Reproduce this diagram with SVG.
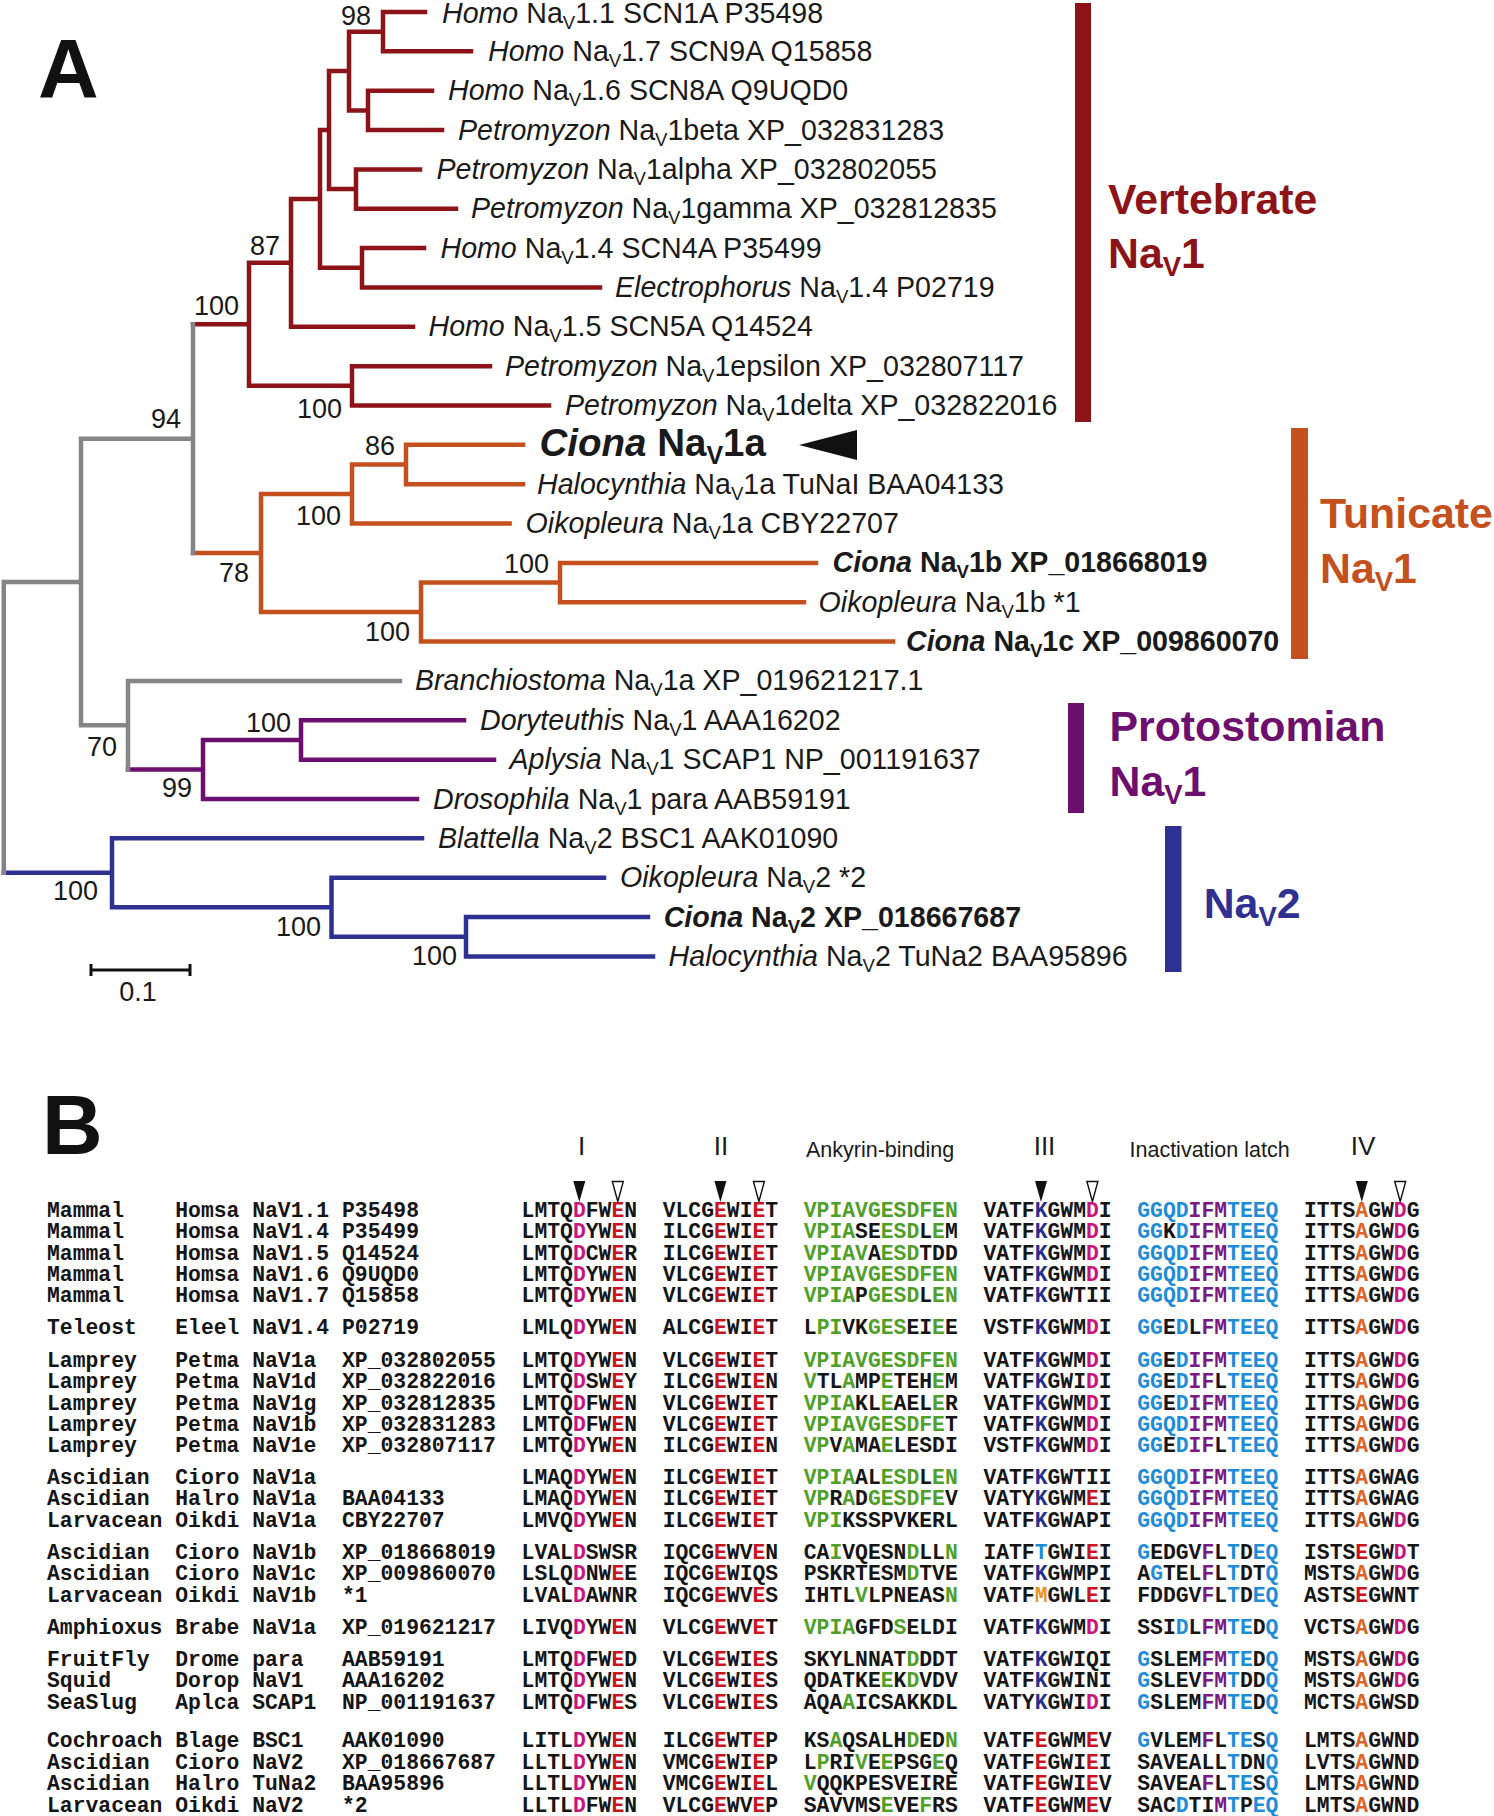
<svg xmlns="http://www.w3.org/2000/svg" width="1494" height="1816" viewBox="0 0 1494 1816">
<style>
.t{font-family:"Liberation Sans",Arial,sans-serif;font-size:28.6px;fill:#1a1a1a}
.it{font-style:italic}
.bd{font-weight:bold}
.sub{font-size:18.6px}
.bs{font-family:"Liberation Sans",Arial,sans-serif;font-size:27px;fill:#1a1a1a;text-anchor:end}
.cl{font-family:"Liberation Sans",Arial,sans-serif;font-size:42.8px;font-weight:bold}
.cls{font-size:27.5px}
.big{font-family:"Liberation Sans",Arial,sans-serif;font-size:84px;font-weight:bold;fill:#111}
.hd{font-family:"Liberation Sans",Arial,sans-serif;fill:#1a1a1a}
.aln{font-family:"Liberation Mono","Courier New",monospace;font-size:21.38px;font-weight:bold;fill:#151515}
.m{fill:#c8157e}.r{fill:#c8141e}.g{fill:#4f9f2a}.n{fill:#24308c}.c{fill:#1e8cd7}.p{fill:#781a82}.o{fill:#dc6428}.y{fill:#e6961e}
.br{fill:none;stroke-width:4.5;stroke-linecap:square;stroke-linejoin:miter}
.tf{fill:#111}
.to{fill:#fff;stroke:#111;stroke-width:1.4}
</style>

<text class="big" x="38" y="98">A</text>
<text class="big" x="42" y="1154">B</text>

<g id="branches">
<path class="br" stroke="#8c1418" d="M193,324.3 H249 M291,262.85 H249 V385.8 H352 M320,198.9 H291 V326.8 H413 M329,130 H320 V267.8 H362 M349,71 H329 V189.1 H356 M383,31.7 H349 V110.4 H368 M425,12 H383 V51.35 H471 M432,90.7 H368 V130.05 H442 M420,169.4 H356 V208.75 H456 M424,248.1 H362 V287.45 H600 M490,366.15 H352 V405.5 H549"/>
<path class="br" stroke="#c4501e" d="M193,553.05 H261 M352,494 H261 V612.1 H421 M406,464.5 H352 V523.55 H509.6 M523,444.85 H406 V484.2 H523 M560,582.6 H421 V641.6 H893 M816,562.9 H560 V602.25 H804"/>
<path class="br" stroke="#6c0f6e" d="M128,769.5 H203 M301,740 H203 V799 H417 M464,720.3 H301 V759.65 H494"/>
<path class="br" stroke="#2e3192" d="M3.8,872.8 H112 M422,838.35 H112 V907.2 H331.5 M604,877.7 H331.5 V936.7 H466 M648,917.05 H466 V956.4 H653"/>
<path class="br" stroke="#858585" d="M81,582 H3.8 V872.8 M193,438.7 H81 V725.2 H128 M193,324.3 V553.05 M400,680.95 H128 V769.5"/>
</g>

<g id="bootstrap">
<text class="bs" x="371" y="25">98</text>
<text class="bs" x="280" y="255">87</text>
<text class="bs" x="239" y="315">100</text>
<text class="bs" x="342" y="418">100</text>
<text class="bs" x="181" y="427.5">94</text>
<text class="bs" x="395" y="455">86</text>
<text class="bs" x="341" y="525">100</text>
<text class="bs" x="249" y="581.5">78</text>
<text class="bs" x="549" y="573">100</text>
<text class="bs" x="410" y="641">100</text>
<text class="bs" x="117" y="756">70</text>
<text class="bs" x="291" y="732">100</text>
<text class="bs" x="192" y="797">99</text>
<text class="bs" x="98" y="900">100</text>
<text class="bs" x="321" y="936">100</text>
<text class="bs" x="457" y="965">100</text>
</g>

<g id="leaf-homo-nav1-1"><text class="t" x="442" y="23"><tspan class="it">Homo</tspan> Na<tspan class="sub" dy="6">V</tspan><tspan dy="-6">1.1 SCN1A P35498</tspan></text></g>
<g id="leaf-homo-nav1-7"><text class="t" x="488" y="60.85"><tspan class="it">Homo</tspan> Na<tspan class="sub" dy="6">V</tspan><tspan dy="-6">1.7 SCN9A Q15858</tspan></text></g>
<g id="leaf-homo-nav1-6"><text class="t" x="448" y="100.2"><tspan class="it">Homo</tspan> Na<tspan class="sub" dy="6">V</tspan><tspan dy="-6">1.6 SCN8A Q9UQD0</tspan></text></g>
<g id="leaf-petromyzon-beta"><text class="t" x="458" y="139.55"><tspan class="it">Petromyzon</tspan> Na<tspan class="sub" dy="6">V</tspan><tspan dy="-6">1beta XP_032831283</tspan></text></g>
<g id="leaf-petromyzon-alpha"><text class="t" x="436.5" y="178.9"><tspan class="it">Petromyzon</tspan> Na<tspan class="sub" dy="6">V</tspan><tspan dy="-6">1alpha XP_032802055</tspan></text></g>
<g id="leaf-petromyzon-gamma"><text class="t" x="471" y="218.25"><tspan class="it">Petromyzon</tspan> Na<tspan class="sub" dy="6">V</tspan><tspan dy="-6">1gamma XP_032812835</tspan></text></g>
<g id="leaf-homo-nav1-4"><text class="t" x="440.5" y="257.6"><tspan class="it">Homo</tspan> Na<tspan class="sub" dy="6">V</tspan><tspan dy="-6">1.4 SCN4A P35499</tspan></text></g>
<g id="leaf-electrophorus"><text class="t" x="615" y="296.95"><tspan class="it">Electrophorus</tspan> Na<tspan class="sub" dy="6">V</tspan><tspan dy="-6">1.4 P02719</tspan></text></g>
<g id="leaf-homo-nav1-5"><text class="t" x="428.5" y="336.3"><tspan class="it">Homo</tspan> Na<tspan class="sub" dy="6">V</tspan><tspan dy="-6">1.5 SCN5A Q14524</tspan></text></g>
<g id="leaf-petromyzon-epsilon"><text class="t" x="505" y="375.65"><tspan class="it">Petromyzon</tspan> Na<tspan class="sub" dy="6">V</tspan><tspan dy="-6">1epsilon XP_032807117</tspan></text></g>
<g id="leaf-petromyzon-delta"><text class="t" x="565" y="415"><tspan class="it">Petromyzon</tspan> Na<tspan class="sub" dy="6">V</tspan><tspan dy="-6">1delta XP_032822016</tspan></text></g>
<g id="leaf-ciona-nav1a"><text class="t bd" x="539.5" y="456" style="font-size:38.5px"><tspan class="it">Ciona</tspan> Na<tspan dy="8" style="font-size:25px">V</tspan><tspan dy="-8">1a</tspan></text><polygon points="799,445 857,430 857,460" fill="#111"/></g>
<g id="leaf-halocynthia-nav1a"><text class="t" x="537" y="493.7"><tspan class="it">Halocynthia</tspan> Na<tspan class="sub" dy="6">V</tspan><tspan dy="-6">1a TuNaI BAA04133</tspan></text></g>
<g id="leaf-oikopleura-nav1a"><text class="t" x="525.6" y="533.05"><tspan class="it">Oikopleura</tspan> Na<tspan class="sub" dy="6">V</tspan><tspan dy="-6">1a CBY22707</tspan></text></g>
<g id="leaf-ciona-nav1b"><text class="t bd" x="832.6" y="572.4"><tspan class="it">Ciona</tspan> Na<tspan class="sub" dy="6">V</tspan><tspan dy="-6">1b XP_018668019</tspan></text></g>
<g id="leaf-oikopleura-nav1b"><text class="t" x="818.6" y="611.75"><tspan class="it">Oikopleura</tspan> Na<tspan class="sub" dy="6">V</tspan><tspan dy="-6">1b *1</tspan></text></g>
<g id="leaf-ciona-nav1c"><text class="t bd" x="906" y="651.1"><tspan class="it">Ciona</tspan> Na<tspan class="sub" dy="6">V</tspan><tspan dy="-6">1c XP_009860070</tspan></text></g>
<g id="leaf-branchiostoma"><text class="t" x="415" y="690.45"><tspan class="it">Branchiostoma</tspan> Na<tspan class="sub" dy="6">V</tspan><tspan dy="-6">1a XP_019621217.1</tspan></text></g>
<g id="leaf-doryteuthis"><text class="t" x="480" y="729.8"><tspan class="it">Doryteuthis</tspan> Na<tspan class="sub" dy="6">V</tspan><tspan dy="-6">1 AAA16202</tspan></text></g>
<g id="leaf-aplysia"><text class="t" x="509.5" y="769.15"><tspan class="it">Aplysia</tspan> Na<tspan class="sub" dy="6">V</tspan><tspan dy="-6">1 SCAP1 NP_001191637</tspan></text></g>
<g id="leaf-drosophila"><text class="t" x="433" y="808.5"><tspan class="it">Drosophila</tspan> Na<tspan class="sub" dy="6">V</tspan><tspan dy="-6">1 para AAB59191</tspan></text></g>
<g id="leaf-blattella"><text class="t" x="438" y="847.85"><tspan class="it">Blattella</tspan> Na<tspan class="sub" dy="6">V</tspan><tspan dy="-6">2 BSC1 AAK01090</tspan></text></g>
<g id="leaf-oikopleura-nav2"><text class="t" x="620" y="887.2"><tspan class="it">Oikopleura</tspan> Na<tspan class="sub" dy="6">V</tspan><tspan dy="-6">2 *2</tspan></text></g>
<g id="leaf-ciona-nav2"><text class="t bd" x="663.7" y="926.55"><tspan class="it">Ciona</tspan> Na<tspan class="sub" dy="6">V</tspan><tspan dy="-6">2 XP_018667687</tspan></text></g>
<g id="leaf-halocynthia-nav2"><text class="t" x="668.6" y="965.9"><tspan class="it">Halocynthia</tspan> Na<tspan class="sub" dy="6">V</tspan><tspan dy="-6">2 TuNa2 BAA95896</tspan></text></g>

<g id="clade-vertebrate"><rect x="1075" y="3" width="16" height="419" fill="#8c1418"/><text class="cl" fill="#8c1418" x="1108" y="214">Vertebrate</text><text class="cl" fill="#8c1418" x="1108" y="267.5">Na<tspan class="cls" dy="8">V</tspan><tspan dy="-8">1</tspan></text></g>
<g id="clade-tunicate"><rect x="1291" y="428" width="17" height="231" fill="#c4501e"/><text class="cl" fill="#c4501e" x="1320" y="528">Tunicate</text><text class="cl" fill="#c4501e" x="1320" y="583">Na<tspan class="cls" dy="8">V</tspan><tspan dy="-8">1</tspan></text></g>
<g id="clade-protostomian"><rect x="1068" y="703" width="16" height="110" fill="#6c0f6e"/><text class="cl" fill="#6c0f6e" x="1109.5" y="741">Protostomian</text><text class="cl" fill="#6c0f6e" x="1109.5" y="795.5">Na<tspan class="cls" dy="8">V</tspan><tspan dy="-8">1</tspan></text></g>
<g id="clade-nav2"><rect x="1165" y="826" width="16.5" height="146" fill="#2e3192"/><text class="cl" fill="#2e3192" x="1203.7" y="918">Na<tspan class="cls" dy="8">V</tspan><tspan dy="-8">2</tspan></text></g>

<g id="scalebar"><path d="M91,964 V976 M91,970 H190 M190,964 V976" stroke="#111" stroke-width="3" fill="none"/><text class="hd" x="138" y="1001" font-size="27" text-anchor="middle">0.1</text></g>

<g id="alignment-header">
<text class="hd" x="581.6" y="1155" font-size="26" text-anchor="middle">I</text>
<text class="hd" x="721" y="1155" font-size="26" text-anchor="middle">II</text>
<text class="hd" x="806" y="1157" font-size="21.5">Ankyrin-binding</text>
<text class="hd" x="1044.5" y="1155" font-size="26" text-anchor="middle">III</text>
<text class="hd" x="1129.5" y="1157" font-size="21.5">Inactivation latch</text>
<text class="hd" x="1363" y="1155" font-size="26" text-anchor="middle">IV</text>
<polygon class="tf" points="573.3,1181 585.3,1181 579.3,1202"/>
<polygon class="to" points="612.3,1181.5 623.3,1181.5 617.8,1201.5"/>
<polygon class="tf" points="714.4,1181 726.4,1181 720.4,1202"/>
<polygon class="to" points="753.4,1181.5 764.4,1181.5 758.9,1201.5"/>
<polygon class="tf" points="1035,1181 1047,1181 1041,1202"/>
<polygon class="to" points="1086.9,1181.5 1097.9,1181.5 1092.4,1201.5"/>
<polygon class="tf" points="1355.8,1181 1367.8,1181 1361.8,1202"/>
<polygon class="to" points="1394.7,1181.5 1405.7,1181.5 1400.2,1201.5"/>
</g>

<g id="alignment">
<text class="aln" y="1216.7"><tspan x="47">Mammal</tspan><tspan x="175.3">Homsa</tspan><tspan x="252.2">NaV1.1</tspan><tspan x="342">P35498</tspan><tspan x="521.6">LMTQ</tspan><tspan class="m">D</tspan>FW<tspan class="r">E</tspan>N<tspan x="662.7">VLCG</tspan><tspan class="r">E</tspan>WI<tspan class="r">E</tspan>T<tspan x="803.8" class="g">VPIAVGESDFEN</tspan><tspan x="983.4">VATF</tspan><tspan class="n">K</tspan>GWM<tspan class="m">D</tspan>I<tspan x="1137.3" class="c">GGQD</tspan><tspan class="p">IFM</tspan><tspan class="c">TEEQ</tspan><tspan x="1304">ITTS</tspan><tspan class="o">A</tspan>GW<tspan class="m">D</tspan>G</text>
<text class="aln" y="1238.1"><tspan x="47">Mammal</tspan><tspan x="175.3">Homsa</tspan><tspan x="252.2">NaV1.4</tspan><tspan x="342">P35499</tspan><tspan x="521.6">LMTQ</tspan><tspan class="m">D</tspan>YW<tspan class="r">E</tspan>N<tspan x="662.7">ILCG</tspan><tspan class="r">E</tspan>WI<tspan class="r">E</tspan>T<tspan x="803.8" class="g">VPIA</tspan>SE<tspan class="g">ESD</tspan>L<tspan class="g">E</tspan>M<tspan x="983.4">VATF</tspan><tspan class="n">K</tspan>GWM<tspan class="m">D</tspan>I<tspan x="1137.3" class="c">GG</tspan>K<tspan class="c">D</tspan><tspan class="p">IFM</tspan><tspan class="c">TEEQ</tspan><tspan x="1304">ITTS</tspan><tspan class="o">A</tspan>GW<tspan class="m">D</tspan>G</text>
<text class="aln" y="1259.5"><tspan x="47">Mammal</tspan><tspan x="175.3">Homsa</tspan><tspan x="252.2">NaV1.5</tspan><tspan x="342">Q14524</tspan><tspan x="521.6">LMTQ</tspan><tspan class="m">D</tspan>CW<tspan class="r">E</tspan>R<tspan x="662.7">ILCG</tspan><tspan class="r">E</tspan>WI<tspan class="r">E</tspan>T<tspan x="803.8" class="g">VPIAV</tspan>A<tspan class="g">ESD</tspan>TDD<tspan x="983.4">VATF</tspan><tspan class="n">K</tspan>GWM<tspan class="m">D</tspan>I<tspan x="1137.3" class="c">GGQD</tspan><tspan class="p">IFM</tspan><tspan class="c">TEEQ</tspan><tspan x="1304">ITTS</tspan><tspan class="o">A</tspan>GW<tspan class="m">D</tspan>G</text>
<text class="aln" y="1280.9"><tspan x="47">Mammal</tspan><tspan x="175.3">Homsa</tspan><tspan x="252.2">NaV1.6</tspan><tspan x="342">Q9UQD0</tspan><tspan x="521.6">LMTQ</tspan><tspan class="m">D</tspan>YW<tspan class="r">E</tspan>N<tspan x="662.7">VLCG</tspan><tspan class="r">E</tspan>WI<tspan class="r">E</tspan>T<tspan x="803.8" class="g">VPIAVGESDFEN</tspan><tspan x="983.4">VATF</tspan><tspan class="n">K</tspan>GWM<tspan class="m">D</tspan>I<tspan x="1137.3" class="c">GGQD</tspan><tspan class="p">IFM</tspan><tspan class="c">TEEQ</tspan><tspan x="1304">ITTS</tspan><tspan class="o">A</tspan>GW<tspan class="m">D</tspan>G</text>
<text class="aln" y="1302.3"><tspan x="47">Mammal</tspan><tspan x="175.3">Homsa</tspan><tspan x="252.2">NaV1.7</tspan><tspan x="342">Q15858</tspan><tspan x="521.6">LMTQ</tspan><tspan class="m">D</tspan>YW<tspan class="r">E</tspan>N<tspan x="662.7">VLCG</tspan><tspan class="r">E</tspan>WI<tspan class="r">E</tspan>T<tspan x="803.8" class="g">VPIA</tspan>P<tspan class="g">GESD</tspan>L<tspan class="g">EN</tspan><tspan x="983.4">VATF</tspan><tspan class="n">K</tspan>GWTII<tspan x="1137.3" class="c">GGQD</tspan><tspan class="p">IFM</tspan><tspan class="c">TEEQ</tspan><tspan x="1304">ITTS</tspan><tspan class="o">A</tspan>GW<tspan class="m">D</tspan>G</text>
<text class="aln" y="1334.3"><tspan x="47">Teleost</tspan><tspan x="175.3">Eleel</tspan><tspan x="252.2">NaV1.4</tspan><tspan x="342">P02719</tspan><tspan x="521.6">LMLQ</tspan><tspan class="m">D</tspan>YW<tspan class="r">E</tspan>N<tspan x="662.7">ALCG</tspan><tspan class="r">E</tspan>WI<tspan class="r">E</tspan>T<tspan x="803.8">L</tspan><tspan class="g">PI</tspan>VK<tspan class="g">GES</tspan>EI<tspan class="g">E</tspan>E<tspan x="983.4">VSTF</tspan><tspan class="n">K</tspan>GWM<tspan class="m">D</tspan>I<tspan x="1137.3" class="c">GG</tspan>E<tspan class="c">D</tspan>L<tspan class="p">FM</tspan><tspan class="c">TEEQ</tspan><tspan x="1304">ITTS</tspan><tspan class="o">A</tspan>GW<tspan class="m">D</tspan>G</text>
<text class="aln" y="1366.7"><tspan x="47">Lamprey</tspan><tspan x="175.3">Petma</tspan><tspan x="252.2">NaV1a</tspan><tspan x="342">XP_032802055</tspan><tspan x="521.6">LMTQ</tspan><tspan class="m">D</tspan>YW<tspan class="r">E</tspan>N<tspan x="662.7">VLCG</tspan><tspan class="r">E</tspan>WI<tspan class="r">E</tspan>T<tspan x="803.8" class="g">VPIAVGESDFEN</tspan><tspan x="983.4">VATF</tspan><tspan class="n">K</tspan>GWM<tspan class="m">D</tspan>I<tspan x="1137.3" class="c">GG</tspan>E<tspan class="c">D</tspan><tspan class="p">IFM</tspan><tspan class="c">TEEQ</tspan><tspan x="1304">ITTS</tspan><tspan class="o">A</tspan>GW<tspan class="m">D</tspan>G</text>
<text class="aln" y="1388.1"><tspan x="47">Lamprey</tspan><tspan x="175.3">Petma</tspan><tspan x="252.2">NaV1d</tspan><tspan x="342">XP_032822016</tspan><tspan x="521.6">LMTQ</tspan><tspan class="m">D</tspan>SW<tspan class="r">E</tspan>Y<tspan x="662.7">ILCG</tspan><tspan class="r">E</tspan>WI<tspan class="r">E</tspan>N<tspan x="803.8" class="g">V</tspan>TL<tspan class="g">A</tspan>MP<tspan class="g">E</tspan>TEH<tspan class="g">E</tspan>M<tspan x="983.4">VATF</tspan><tspan class="n">K</tspan>GWI<tspan class="m">D</tspan>I<tspan x="1137.3" class="c">GG</tspan>E<tspan class="c">D</tspan><tspan class="p">IF</tspan>L<tspan class="c">TEEQ</tspan><tspan x="1304">ITTS</tspan><tspan class="o">A</tspan>GW<tspan class="m">D</tspan>G</text>
<text class="aln" y="1409.5"><tspan x="47">Lamprey</tspan><tspan x="175.3">Petma</tspan><tspan x="252.2">NaV1g</tspan><tspan x="342">XP_032812835</tspan><tspan x="521.6">LMTQ</tspan><tspan class="m">D</tspan>FW<tspan class="r">E</tspan>N<tspan x="662.7">VLCG</tspan><tspan class="r">E</tspan>WI<tspan class="r">E</tspan>T<tspan x="803.8" class="g">VPIA</tspan>KL<tspan class="g">E</tspan>AEL<tspan class="g">E</tspan>R<tspan x="983.4">VATF</tspan><tspan class="n">K</tspan>GWM<tspan class="m">D</tspan>I<tspan x="1137.3" class="c">GG</tspan>E<tspan class="c">D</tspan><tspan class="p">IFM</tspan><tspan class="c">TEEQ</tspan><tspan x="1304">ITTS</tspan><tspan class="o">A</tspan>GW<tspan class="m">D</tspan>G</text>
<text class="aln" y="1430.9"><tspan x="47">Lamprey</tspan><tspan x="175.3">Petma</tspan><tspan x="252.2">NaV1b</tspan><tspan x="342">XP_032831283</tspan><tspan x="521.6">LMTQ</tspan><tspan class="m">D</tspan>FW<tspan class="r">E</tspan>N<tspan x="662.7">VLCG</tspan><tspan class="r">E</tspan>WI<tspan class="r">E</tspan>T<tspan x="803.8" class="g">VPIAVGESDFE</tspan>T<tspan x="983.4">VATF</tspan><tspan class="n">K</tspan>GWM<tspan class="m">D</tspan>I<tspan x="1137.3" class="c">GGQD</tspan><tspan class="p">IFM</tspan><tspan class="c">TEEQ</tspan><tspan x="1304">ITTS</tspan><tspan class="o">A</tspan>GW<tspan class="m">D</tspan>G</text>
<text class="aln" y="1452.3"><tspan x="47">Lamprey</tspan><tspan x="175.3">Petma</tspan><tspan x="252.2">NaV1e</tspan><tspan x="342">XP_032807117</tspan><tspan x="521.6">LMTQ</tspan><tspan class="m">D</tspan>YW<tspan class="r">E</tspan>N<tspan x="662.7">ILCG</tspan><tspan class="r">E</tspan>WI<tspan class="r">E</tspan>N<tspan x="803.8" class="g">VP</tspan>V<tspan class="g">A</tspan>MA<tspan class="g">E</tspan>LESDI<tspan x="983.4">VSTF</tspan><tspan class="n">K</tspan>GWM<tspan class="m">D</tspan>I<tspan x="1137.3" class="c">GG</tspan>E<tspan class="c">D</tspan><tspan class="p">IF</tspan>L<tspan class="c">TEEQ</tspan><tspan x="1304">ITTS</tspan><tspan class="o">A</tspan>GW<tspan class="m">D</tspan>G</text>
<text class="aln" y="1484"><tspan x="47">Ascidian</tspan><tspan x="175.3">Cioro</tspan><tspan x="252.2">NaV1a</tspan><tspan x="521.6">LMAQ</tspan><tspan class="m">D</tspan>YW<tspan class="r">E</tspan>N<tspan x="662.7">ILCG</tspan><tspan class="r">E</tspan>WI<tspan class="r">E</tspan>T<tspan x="803.8" class="g">VPIA</tspan>AL<tspan class="g">ESD</tspan>L<tspan class="g">EN</tspan><tspan x="983.4">VATF</tspan><tspan class="n">K</tspan>GWTII<tspan x="1137.3" class="c">GGQD</tspan><tspan class="p">IFM</tspan><tspan class="c">TEEQ</tspan><tspan x="1304">ITTS</tspan><tspan class="o">A</tspan>GWAG</text>
<text class="aln" y="1505.4"><tspan x="47">Ascidian</tspan><tspan x="175.3">Halro</tspan><tspan x="252.2">NaV1a</tspan><tspan x="342">BAA04133</tspan><tspan x="521.6">LMAQ</tspan><tspan class="m">D</tspan>YW<tspan class="r">E</tspan>N<tspan x="662.7">ILCG</tspan><tspan class="r">E</tspan>WI<tspan class="r">E</tspan>T<tspan x="803.8" class="g">VP</tspan>R<tspan class="g">A</tspan>D<tspan class="g">GESDFE</tspan>V<tspan x="983.4">VATY</tspan><tspan class="n">K</tspan>GWM<tspan class="r">E</tspan>I<tspan x="1137.3" class="c">GGQD</tspan><tspan class="p">IFM</tspan><tspan class="c">TEEQ</tspan><tspan x="1304">ITTS</tspan><tspan class="o">A</tspan>GWAG</text>
<text class="aln" y="1526.8"><tspan x="47">Larvacean</tspan><tspan x="175.3">Oikdi</tspan><tspan x="252.2">NaV1a</tspan><tspan x="342">CBY22707</tspan><tspan x="521.6">LMVQ</tspan><tspan class="m">D</tspan>YW<tspan class="r">E</tspan>N<tspan x="662.7">ILCG</tspan><tspan class="r">E</tspan>WI<tspan class="r">E</tspan>T<tspan x="803.8" class="g">VPI</tspan>KSSPVKERL<tspan x="983.4">VATF</tspan><tspan class="n">K</tspan>GWAPI<tspan x="1137.3" class="c">GGQD</tspan><tspan class="p">IFM</tspan><tspan class="c">TEEQ</tspan><tspan x="1304">ITTS</tspan><tspan class="o">A</tspan>GW<tspan class="m">D</tspan>G</text>
<text class="aln" y="1559"><tspan x="47">Ascidian</tspan><tspan x="175.3">Cioro</tspan><tspan x="252.2">NaV1b</tspan><tspan x="342">XP_018668019</tspan><tspan x="521.6">LVAL</tspan><tspan class="m">D</tspan>SWSR<tspan x="662.7">IQCG</tspan><tspan class="r">E</tspan>WV<tspan class="r">E</tspan>N<tspan x="803.8">CA</tspan><tspan class="g">I</tspan>VQESN<tspan class="g">D</tspan>LL<tspan class="g">N</tspan><tspan x="983.4">IATF</tspan><tspan class="c">T</tspan>GWI<tspan class="r">E</tspan>I<tspan x="1137.3" class="c">G</tspan>EDGV<tspan class="p">F</tspan>L<tspan class="c">T</tspan>D<tspan class="c">EQ</tspan><tspan x="1304">ISTS</tspan><tspan class="r">E</tspan>GW<tspan class="m">D</tspan>T</text>
<text class="aln" y="1580.4"><tspan x="47">Ascidian</tspan><tspan x="175.3">Cioro</tspan><tspan x="252.2">NaV1c</tspan><tspan x="342">XP_009860070</tspan><tspan x="521.6">LSLQ</tspan><tspan class="m">D</tspan>NW<tspan class="r">E</tspan>E<tspan x="662.7">IQCG</tspan><tspan class="r">E</tspan>WIQS<tspan x="803.8">PSKRTESM</tspan><tspan class="g">D</tspan>TVE<tspan x="983.4">VATF</tspan><tspan class="n">K</tspan>GWMPI<tspan x="1137.3">A</tspan><tspan class="c">G</tspan>TEL<tspan class="p">F</tspan>L<tspan class="c">T</tspan>DT<tspan class="c">Q</tspan><tspan x="1304">MSTS</tspan><tspan class="o">A</tspan>GW<tspan class="m">D</tspan>G</text>
<text class="aln" y="1601.8"><tspan x="47">Larvacean</tspan><tspan x="175.3">Oikdi</tspan><tspan x="252.2">NaV1b</tspan><tspan x="342">*1</tspan><tspan x="521.6">LVAL</tspan><tspan class="m">D</tspan>AWNR<tspan x="662.7">IQCG</tspan><tspan class="r">E</tspan>WV<tspan class="r">E</tspan>S<tspan x="803.8">IHTL</tspan><tspan class="g">V</tspan>LPNEAS<tspan class="g">N</tspan><tspan x="983.4">VATF</tspan><tspan class="y">M</tspan>GWL<tspan class="r">E</tspan>I<tspan x="1137.3">FDDGV</tspan><tspan class="p">F</tspan>L<tspan class="c">T</tspan>D<tspan class="c">EQ</tspan><tspan x="1304">ASTS</tspan><tspan class="r">E</tspan>GWNT</text>
<text class="aln" y="1634"><tspan x="47">Amphioxus</tspan><tspan x="175.3">Brabe</tspan><tspan x="252.2">NaV1a</tspan><tspan x="342">XP_019621217</tspan><tspan x="521.6">LIVQ</tspan><tspan class="m">D</tspan>YW<tspan class="r">E</tspan>N<tspan x="662.7">VLCG</tspan><tspan class="r">E</tspan>WV<tspan class="r">E</tspan>T<tspan x="803.8" class="g">VPIA</tspan>GFD<tspan class="g">S</tspan>ELDI<tspan x="983.4">VATF</tspan><tspan class="n">K</tspan>GWM<tspan class="m">D</tspan>I<tspan x="1137.3">SSI</tspan><tspan class="c">D</tspan>L<tspan class="p">FM</tspan><tspan class="c">TE</tspan>D<tspan class="c">Q</tspan><tspan x="1304">VCTS</tspan><tspan class="o">A</tspan>GW<tspan class="m">D</tspan>G</text>
<text class="aln" y="1666"><tspan x="47">FruitFly</tspan><tspan x="175.3">Drome</tspan><tspan x="252.2">para</tspan><tspan x="342">AAB59191</tspan><tspan x="521.6">LMTQ</tspan><tspan class="m">D</tspan>FW<tspan class="r">E</tspan>D<tspan x="662.7">VLCG</tspan><tspan class="r">E</tspan>WI<tspan class="r">E</tspan>S<tspan x="803.8">SKYLNNAT</tspan><tspan class="g">D</tspan>DDT<tspan x="983.4">VATF</tspan><tspan class="n">K</tspan>GWIQI<tspan x="1137.3" class="c">G</tspan>SLEM<tspan class="p">FM</tspan><tspan class="c">TE</tspan>D<tspan class="c">Q</tspan><tspan x="1304">MSTS</tspan><tspan class="o">A</tspan>GW<tspan class="m">D</tspan>G</text>
<text class="aln" y="1687.4"><tspan x="47">Squid</tspan><tspan x="175.3">Dorop</tspan><tspan x="252.2">NaV1</tspan><tspan x="342">AAA16202</tspan><tspan x="521.6">LMTQ</tspan><tspan class="m">D</tspan>YW<tspan class="r">E</tspan>N<tspan x="662.7">VLCG</tspan><tspan class="r">E</tspan>WI<tspan class="r">E</tspan>S<tspan x="803.8">QDATKE</tspan><tspan class="g">E</tspan>K<tspan class="g">D</tspan>VDV<tspan x="983.4">VATF</tspan><tspan class="n">K</tspan>GWINI<tspan x="1137.3" class="c">G</tspan>SLEV<tspan class="p">FM</tspan><tspan class="c">T</tspan>DD<tspan class="c">Q</tspan><tspan x="1304">MSTS</tspan><tspan class="o">A</tspan>GW<tspan class="m">D</tspan>G</text>
<text class="aln" y="1708.8"><tspan x="47">SeaSlug</tspan><tspan x="175.3">Aplca</tspan><tspan x="252.2">SCAP1</tspan><tspan x="342">NP_001191637</tspan><tspan x="521.6">LMTQ</tspan><tspan class="m">D</tspan>FW<tspan class="r">E</tspan>S<tspan x="662.7">VLCG</tspan><tspan class="r">E</tspan>WI<tspan class="r">E</tspan>S<tspan x="803.8">AQA</tspan><tspan class="g">A</tspan>ICSAKKDL<tspan x="983.4">VATY</tspan><tspan class="n">K</tspan>GWI<tspan class="m">D</tspan>I<tspan x="1137.3" class="c">G</tspan>SLEM<tspan class="p">FM</tspan><tspan class="c">TE</tspan>D<tspan class="c">Q</tspan><tspan x="1304">MCTS</tspan><tspan class="o">A</tspan>GWSD</text>
<text class="aln" y="1747.3"><tspan x="47">Cochroach</tspan><tspan x="175.3">Blage</tspan><tspan x="252.2">BSC1</tspan><tspan x="342">AAK01090</tspan><tspan x="521.6">LITL</tspan><tspan class="m">D</tspan>YW<tspan class="r">E</tspan>N<tspan x="662.7">ILCG</tspan><tspan class="r">E</tspan>WT<tspan class="r">E</tspan>P<tspan x="803.8">KS</tspan><tspan class="g">A</tspan>QSALH<tspan class="g">D</tspan>ED<tspan class="g">N</tspan><tspan x="983.4">VATF</tspan><tspan class="r">E</tspan>GWM<tspan class="r">E</tspan>V<tspan x="1137.3" class="c">G</tspan>VLEM<tspan class="p">F</tspan>L<tspan class="c">TE</tspan>S<tspan class="c">Q</tspan><tspan x="1304">LMTS</tspan><tspan class="o">A</tspan>GWND</text>
<text class="aln" y="1768.7"><tspan x="47">Ascidian</tspan><tspan x="175.3">Cioro</tspan><tspan x="252.2">NaV2</tspan><tspan x="342">XP_018667687</tspan><tspan x="521.6">LLTL</tspan><tspan class="m">D</tspan>YW<tspan class="r">E</tspan>N<tspan x="662.7">VMCG</tspan><tspan class="r">E</tspan>WI<tspan class="r">E</tspan>P<tspan x="803.8">L</tspan><tspan class="g">P</tspan>RI<tspan class="g">V</tspan>E<tspan class="g">E</tspan>PSG<tspan class="g">E</tspan>Q<tspan x="983.4">VATF</tspan><tspan class="r">E</tspan>GWI<tspan class="r">E</tspan>I<tspan x="1137.3">SAVEALL</tspan><tspan class="c">T</tspan>DN<tspan class="c">Q</tspan><tspan x="1304">LVTS</tspan><tspan class="o">A</tspan>GWND</text>
<text class="aln" y="1790.1"><tspan x="47">Ascidian</tspan><tspan x="175.3">Halro</tspan><tspan x="252.2">TuNa2</tspan><tspan x="342">BAA95896</tspan><tspan x="521.6">LLTL</tspan><tspan class="m">D</tspan>YW<tspan class="r">E</tspan>N<tspan x="662.7">VMCG</tspan><tspan class="r">E</tspan>WI<tspan class="r">E</tspan>L<tspan x="803.8" class="g">V</tspan>QQKPESVEIRE<tspan x="983.4">VATF</tspan><tspan class="r">E</tspan>GWI<tspan class="r">E</tspan>V<tspan x="1137.3">SAVEA</tspan><tspan class="p">F</tspan>L<tspan class="c">TE</tspan>S<tspan class="c">Q</tspan><tspan x="1304">LMTS</tspan><tspan class="o">A</tspan>GWND</text>
<text class="aln" y="1811.5"><tspan x="47">Larvacean</tspan><tspan x="175.3">Oikdi</tspan><tspan x="252.2">NaV2</tspan><tspan x="342">*2</tspan><tspan x="521.6">LLTL</tspan><tspan class="m">D</tspan>FW<tspan class="r">E</tspan>N<tspan x="662.7">VLCG</tspan><tspan class="r">E</tspan>WV<tspan class="r">E</tspan>P<tspan x="803.8">SAVVMS</tspan><tspan class="g">E</tspan>VE<tspan class="g">F</tspan>RS<tspan x="983.4">VATF</tspan><tspan class="r">E</tspan>GWM<tspan class="r">E</tspan>V<tspan x="1137.3">SAC</tspan><tspan class="c">D</tspan>TI<tspan class="p">M</tspan><tspan class="c">T</tspan>P<tspan class="c">EQ</tspan><tspan x="1304">LMTS</tspan><tspan class="o">A</tspan>GWND</text>
</g>
</svg>
